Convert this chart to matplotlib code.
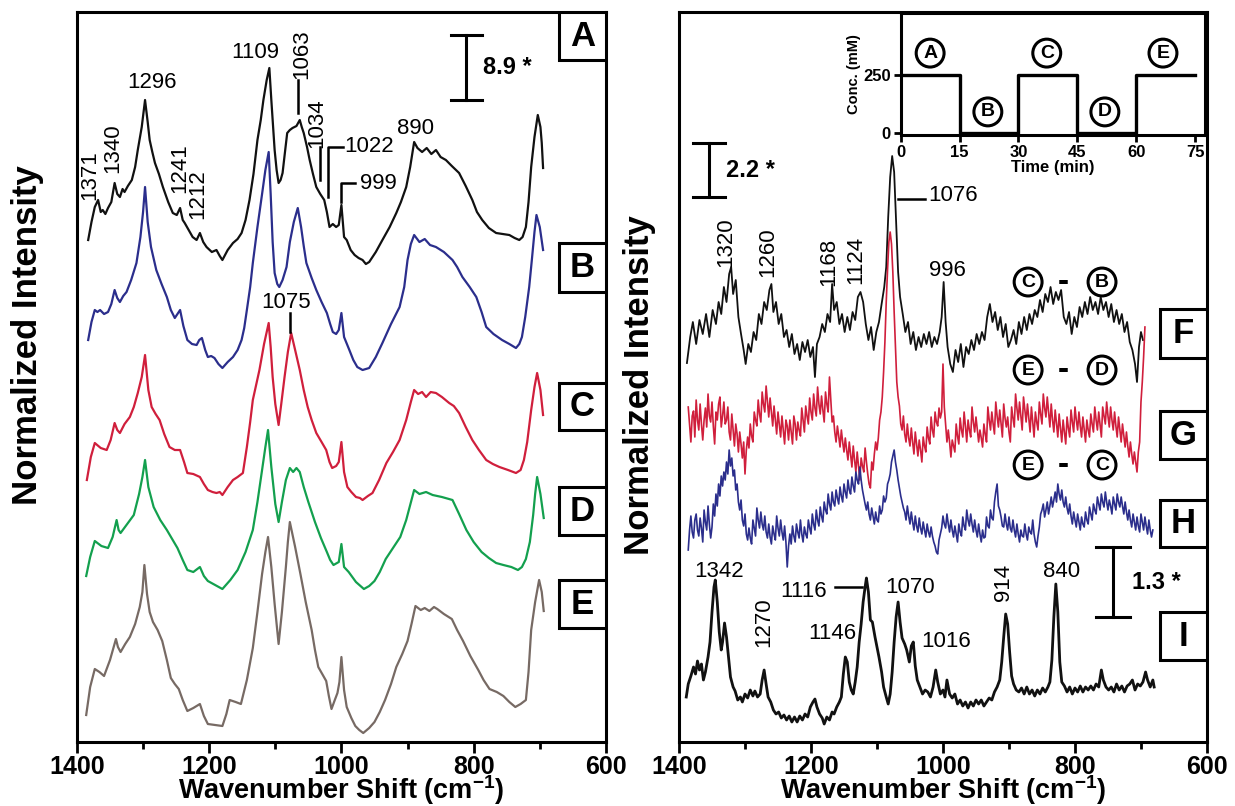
import numpy as np
import matplotlib
matplotlib.use('Agg')
import matplotlib.pyplot as plt
from matplotlib.patches import Rectangle

plt.rcParams['font.family'] = ['Liberation Sans', 'DejaVu Sans']
plt.rcParams['mathtext.fontset'] = 'custom'
plt.rcParams['mathtext.bf'] = 'Liberation Sans:bold'
plt.rcParams['mathtext.rm'] = 'Liberation Sans'

# ---- data: (wavenumber cm-1, intensity in stacked arbitrary units) ----
# left panel, spectra A-E
spec_A = [(1383, 502), (1378, 520), (1373, 535), (1368, 542), (1364, 530), (1361, 532),
          (1357, 528), (1353, 534), (1348, 540), (1343, 559), (1339, 548), (1335, 545),
          (1331, 553), (1328, 550), (1323, 556), (1317, 562), (1312, 575), (1308, 592),
          (1302, 615), (1297, 642), (1293, 620), (1290, 602), (1286, 590), (1282, 579),
          (1276, 568), (1270, 555), (1262, 540), (1255, 529), (1249, 527), (1244, 534),
          (1240, 522), (1237, 519), (1231, 512), (1225, 505), (1219, 502), (1214, 509),
          (1209, 500), (1204, 495), (1196, 490), (1189, 492), (1184, 486), (1180, 482),
          (1172, 492), (1164, 499), (1157, 503), (1151, 509), (1145, 522), (1139, 542),
          (1133, 568), (1127, 602), (1122, 622), (1118, 642), (1113, 662), (1109, 674),
          (1106, 642), (1103, 612), (1101, 592), (1098, 572), (1095, 559), (1092, 562),
          (1089, 569), (1085, 592), (1082, 609), (1078, 612), (1074, 614), (1068, 616),
          (1063, 622), (1060, 615), (1057, 609), (1052, 595), (1048, 582), (1043, 568),
          (1038, 555), (1032, 548), (1026, 542), (1022, 530), (1018, 515), (1013, 518),
          (1008, 515), (1004, 517), (1000, 537), (996, 505), (992, 502), (986, 492),
          (980, 487), (974, 484), (968, 482), (963, 478), (958, 480), (948, 490),
          (938, 502), (927, 515), (917, 529), (910, 540), (902, 555), (896, 575),
          (890, 600), (885, 594), (878, 590), (871, 594), (864, 588), (857, 592),
          (850, 585), (842, 582), (833, 576), (822, 569), (812, 556), (802, 542),
          (795, 530), (787, 522), (777, 514), (766, 509), (756, 508), (746, 507),
          (738, 504), (731, 502), (726, 505), (721, 515), (717, 540), (713, 575),
          (708, 605), (703, 627), (699, 615), (697, 599), (695, 574)]
spec_B = [(1383, 402), (1378, 420), (1373, 432), (1369, 430), (1365, 432), (1359, 428),
          (1353, 430), (1348, 438), (1343, 452), (1339, 444), (1335, 440), (1330, 446),
          (1325, 450), (1318, 462), (1310, 479), (1304, 505), (1300, 530), (1297, 555),
          (1293, 520), (1288, 495), (1280, 472), (1272, 458), (1264, 445), (1258, 432),
          (1252, 424), (1248, 428), (1244, 432), (1239, 416), (1233, 402), (1226, 398),
          (1219, 397), (1215, 402), (1211, 404), (1206, 392), (1202, 385), (1197, 386),
          (1192, 384), (1186, 378), (1180, 374), (1172, 380), (1164, 385), (1157, 392),
          (1151, 402), (1147, 414), (1143, 432), (1138, 455), (1134, 479), (1127, 515),
          (1120, 548), (1115, 572), (1110, 590), (1107, 548), (1104, 500), (1101, 469),
          (1097, 458), (1094, 455), (1089, 462), (1083, 475), (1078, 500), (1072, 520),
          (1066, 534), (1061, 515), (1057, 496), (1053, 479), (1045, 464), (1038, 452),
          (1030, 440), (1022, 429), (1017, 418), (1013, 410), (1008, 408), (1004, 412),
          (1000, 429), (996, 405), (988, 392), (982, 382), (976, 375), (968, 372),
          (958, 374), (948, 385), (938, 399), (925, 418), (912, 435), (905, 455),
          (900, 482), (895, 498), (890, 507), (882, 500), (874, 503), (866, 497),
          (857, 495), (845, 490), (832, 482), (825, 475), (817, 465), (806, 455),
          (796, 445), (788, 430), (781, 415), (770, 408), (757, 402), (746, 398),
          (736, 394), (731, 398), (727, 405), (722, 425), (716, 455), (712, 482),
          (708, 510), (705, 527), (700, 515), (695, 492)]
spec_C = [(1385, 262), (1379, 285), (1373, 299), (1364, 294), (1355, 292), (1349, 302),
          (1343, 319), (1339, 312), (1335, 309), (1328, 318), (1320, 325), (1314, 335),
          (1308, 349), (1302, 365), (1297, 387), (1292, 352), (1287, 335), (1281, 328),
          (1275, 322), (1268, 308), (1260, 295), (1252, 292), (1244, 292), (1238, 280),
          (1233, 269), (1224, 268), (1214, 265), (1208, 258), (1202, 252), (1195, 250),
          (1189, 249), (1184, 250), (1180, 247), (1172, 255), (1164, 262), (1157, 265),
          (1149, 269), (1143, 295), (1138, 320), (1134, 342), (1128, 360), (1124, 372),
          (1117, 398), (1110, 419), (1107, 395), (1104, 365), (1100, 338), (1095, 317),
          (1091, 338), (1086, 365), (1081, 390), (1076, 409), (1070, 392), (1063, 372),
          (1057, 352), (1051, 335), (1045, 322), (1038, 309), (1030, 300), (1023, 292),
          (1018, 280), (1014, 274), (1008, 276), (1004, 280), (1000, 300), (996, 270),
          (991, 255), (985, 250), (978, 245), (972, 244), (968, 242), (960, 246),
          (953, 249), (943, 262), (932, 279), (922, 290), (912, 302), (902, 322),
          (895, 340), (890, 352), (884, 348), (878, 350), (872, 345), (865, 350),
          (857, 349), (848, 345), (837, 339), (830, 336), (822, 329), (812, 315),
          (802, 302), (792, 292), (781, 282), (771, 278), (761, 275), (748, 272),
          (736, 269), (729, 272), (724, 282), (719, 300), (713, 332), (708, 355),
          (704, 369), (699, 352), (695, 327)]
spec_D = [(1386, 166), (1380, 185), (1373, 201), (1363, 196), (1353, 194), (1346, 205),
          (1340, 222), (1337, 212), (1334, 209), (1324, 218), (1314, 227), (1306, 248),
          (1301, 265), (1297, 282), (1292, 255), (1284, 235), (1274, 222), (1264, 212),
          (1256, 203), (1248, 194), (1240, 182), (1233, 172), (1224, 170), (1214, 175),
          (1208, 166), (1202, 161), (1191, 157), (1180, 153), (1168, 162), (1157, 172),
          (1145, 190), (1134, 212), (1127, 240), (1120, 272), (1115, 295), (1111, 312),
          (1106, 275), (1100, 238), (1095, 220), (1090, 240), (1084, 262), (1078, 274),
          (1073, 270), (1068, 274), (1063, 270), (1057, 255), (1050, 240), (1045, 230),
          (1040, 220), (1031, 204), (1022, 190), (1017, 182), (1012, 177), (1004, 180),
          (1000, 198), (996, 175), (989, 170), (978, 160), (966, 153), (958, 156),
          (950, 161), (942, 170), (933, 183), (922, 194), (911, 205), (902, 222),
          (894, 242), (890, 252), (882, 248), (872, 250), (862, 247), (848, 245),
          (832, 242), (822, 228), (811, 212), (800, 200), (788, 190), (777, 184),
          (766, 179), (755, 177), (743, 175), (733, 172), (727, 175), (721, 183),
          (715, 200), (710, 227), (707, 248), (704, 265), (699, 248), (694, 224)]
spec_E = [(1386, 27), (1380, 55), (1373, 73), (1366, 70), (1359, 66), (1350, 82),
          (1341, 103), (1338, 95), (1334, 90), (1327, 98), (1320, 105), (1312, 118),
          (1305, 135), (1301, 150), (1298, 177), (1294, 148), (1290, 130), (1285, 120),
          (1278, 112), (1271, 101), (1264, 82), (1258, 64), (1252, 58), (1246, 53),
          (1240, 42), (1233, 31), (1224, 34), (1214, 38), (1208, 26), (1202, 18),
          (1191, 17), (1180, 16), (1174, 28), (1169, 42), (1160, 40), (1152, 38),
          (1143, 62), (1134, 94), (1127, 130), (1120, 168), (1115, 190), (1111, 205),
          (1106, 175), (1101, 138), (1095, 98), (1090, 130), (1084, 175), (1081, 200),
          (1078, 220), (1070, 195), (1062, 168), (1054, 140), (1045, 112), (1040, 92),
          (1035, 75), (1029, 68), (1023, 61), (1019, 46), (1015, 33), (1010, 42),
          (1006, 49), (1003, 60), (1000, 85), (996, 52), (992, 35), (985, 24), (979, 16),
          (973, 12), (967, 9), (958, 14), (950, 20), (942, 30), (934, 42), (925, 58),
          (917, 75), (908, 88), (900, 101), (894, 118), (888, 136), (880, 132),
          (874, 134), (867, 131), (860, 135), (855, 133), (845, 128), (833, 123),
          (825, 112), (816, 101), (805, 86), (793, 72), (785, 62), (776, 53), (765, 50),
          (755, 46), (746, 40), (737, 35), (729, 38), (721, 42), (717, 70), (713, 112),
          (707, 140), (701, 162), (697, 150), (694, 131)]

# right panel, difference spectra F-H and spectrum I
spec_F = [(1388, 379), (1383, 405), (1379, 420), (1374, 398), (1369, 422), (1364, 408),
          (1359, 428), (1354, 405), (1349, 432), (1344, 418), (1340, 440), (1336, 428),
          (1332, 455), (1328, 440), (1324, 468), (1321, 475), (1318, 448), (1314, 462),
          (1310, 425), (1306, 408), (1302, 392), (1299, 378), (1295, 398), (1291, 390),
          (1287, 410), (1283, 402), (1279, 428), (1275, 418), (1271, 440), (1267, 432),
          (1263, 452), (1260, 458), (1257, 430), (1253, 440), (1249, 418), (1245, 428),
          (1241, 405), (1237, 412), (1233, 395), (1229, 408), (1225, 388), (1221, 398),
          (1217, 382), (1213, 400), (1209, 390), (1205, 402), (1201, 385), (1197, 395),
          (1194, 365), (1191, 398), (1187, 405), (1183, 418), (1179, 410), (1175, 428),
          (1171, 420), (1168, 458), (1165, 432), (1161, 440), (1157, 418), (1153, 428),
          (1149, 410), (1145, 425), (1141, 412), (1137, 430), (1133, 422), (1129, 445),
          (1125, 450), (1121, 440), (1117, 418), (1113, 402), (1109, 415), (1105, 392),
          (1101, 410), (1097, 420), (1093, 438), (1089, 455), (1086, 475), (1083, 525),
          (1080, 565), (1077, 586), (1074, 570), (1071, 520), (1068, 470), (1065, 445),
          (1061, 428), (1057, 410), (1053, 420), (1049, 398), (1045, 410), (1041, 392),
          (1037, 405), (1033, 395), (1029, 408), (1025, 398), (1021, 410), (1017, 395),
          (1013, 405), (1009, 398), (1005, 410), (1002, 425), (999, 460), (996, 420),
          (993, 395), (989, 378), (985, 370), (981, 392), (977, 380), (973, 398),
          (969, 375), (965, 395), (961, 388), (957, 402), (953, 392), (949, 408),
          (945, 398), (941, 410), (937, 402), (933, 425), (929, 438), (925, 420),
          (921, 430), (917, 412), (913, 425), (909, 405), (905, 418), (901, 395),
          (897, 402), (893, 412), (889, 398), (885, 420), (881, 408), (877, 425),
          (873, 412), (869, 428), (865, 418), (861, 432), (857, 425), (853, 442),
          (849, 430), (845, 448), (841, 440), (837, 455), (833, 438), (829, 450),
          (825, 442), (821, 452), (817, 425), (813, 418), (809, 430), (805, 408),
          (801, 425), (797, 415), (793, 435), (789, 425), (785, 440), (781, 428),
          (777, 445), (773, 432), (769, 440), (765, 428), (761, 445), (757, 432),
          (753, 440), (749, 425), (745, 438), (741, 420), (737, 432), (733, 418),
          (729, 428), (725, 410), (721, 420), (717, 400), (713, 392), (709, 378),
          (706, 360), (703, 395), (700, 410), (697, 402)]
spec_G = [(1386, 335), (1384, 318), (1382, 300), (1380, 326), (1378, 331), (1376, 305),
          (1374, 342), (1372, 322), (1370, 312), (1368, 338), (1366, 318), (1364, 302),
          (1362, 322), (1360, 334), (1358, 315), (1356, 348), (1354, 326), (1352, 320),
          (1350, 340), (1348, 316), (1346, 298), (1344, 330), (1342, 322), (1340, 338),
          (1338, 345), (1336, 315), (1334, 326), (1332, 340), (1330, 318), (1328, 322),
          (1326, 335), (1324, 310), (1322, 302), (1320, 328), (1318, 312), (1316, 296),
          (1314, 318), (1312, 308), (1310, 290), (1308, 310), (1306, 298), (1304, 284),
          (1302, 300), (1300, 268), (1298, 292), (1296, 305), (1294, 294), (1292, 318),
          (1290, 306), (1288, 300), (1286, 330), (1284, 322), (1282, 316), (1280, 342),
          (1278, 328), (1276, 320), (1274, 350), (1272, 338), (1270, 330), (1268, 356),
          (1266, 340), (1264, 325), (1262, 344), (1260, 330), (1258, 316), (1256, 336),
          (1254, 322), (1252, 308), (1250, 330), (1248, 318), (1246, 305), (1244, 326),
          (1242, 312), (1240, 298), (1238, 322), (1236, 316), (1234, 302), (1232, 322),
          (1230, 310), (1228, 298), (1226, 326), (1224, 318), (1222, 302), (1220, 320),
          (1218, 312), (1216, 306), (1214, 334), (1212, 322), (1210, 310), (1208, 336),
          (1206, 326), (1204, 318), (1202, 344), (1200, 330), (1198, 322), (1196, 348),
          (1194, 334), (1192, 326), (1190, 355), (1188, 338), (1186, 328), (1184, 346),
          (1182, 332), (1180, 320), (1178, 350), (1176, 338), (1174, 330), (1172, 365),
          (1170, 342), (1168, 320), (1166, 326), (1164, 310), (1162, 300), (1160, 316),
          (1158, 306), (1156, 295), (1154, 312), (1152, 300), (1150, 290), (1148, 304),
          (1146, 292), (1144, 282), (1142, 300), (1140, 288), (1138, 275), (1136, 296),
          (1134, 282), (1132, 270), (1130, 290), (1128, 276), (1126, 262), (1124, 284),
          (1122, 276), (1120, 270), (1118, 294), (1116, 280), (1114, 268), (1112, 258),
          (1110, 254), (1108, 280), (1106, 272), (1104, 288), (1102, 300), (1100, 292),
          (1098, 304), (1096, 322), (1094, 330), (1092, 345), (1090, 370), (1088, 400),
          (1086, 440), (1084, 472), (1082, 500), (1080, 510), (1078, 498), (1076, 470),
          (1074, 430), (1072, 395), (1070, 360), (1068, 345), (1066, 336), (1064, 318),
          (1062, 312), (1060, 326), (1058, 308), (1056, 300), (1054, 318), (1052, 304),
          (1050, 296), (1048, 314), (1046, 300), (1044, 288), (1042, 310), (1040, 298),
          (1038, 286), (1036, 302), (1034, 292), (1032, 280), (1030, 305), (1028, 296),
          (1026, 290), (1024, 315), (1022, 304), (1020, 298), (1018, 325), (1016, 312),
          (1014, 305), (1012, 330), (1010, 320), (1008, 316), (1006, 334), (1004, 324),
          (1002, 330), (1000, 378), (998, 335), (996, 318), (994, 300), (992, 312),
          (990, 300), (988, 285), (986, 302), (984, 296), (982, 290), (980, 318),
          (978, 306), (976, 298), (974, 324), (972, 312), (970, 305), (968, 330),
          (966, 316), (964, 300), (962, 322), (960, 312), (958, 305), (956, 335),
          (954, 320), (952, 310), (950, 325), (948, 312), (946, 300), (944, 312),
          (942, 304), (940, 295), (938, 318), (936, 308), (934, 300), (932, 335),
          (930, 322), (928, 312), (926, 330), (924, 318), (922, 308), (920, 340),
          (918, 326), (916, 315), (914, 332), (912, 318), (910, 305), (908, 338),
          (906, 324), (904, 315), (902, 325), (900, 310), (898, 300), (896, 335),
          (894, 324), (892, 315), (890, 348), (888, 334), (886, 322), (884, 340),
          (882, 326), (880, 312), (878, 345), (876, 332), (874, 320), (872, 338),
          (870, 324), (868, 310), (866, 335), (864, 320), (862, 305), (860, 330),
          (858, 320), (856, 312), (854, 340), (852, 328), (850, 318), (848, 348),
          (846, 334), (844, 325), (842, 345), (840, 330), (838, 315), (836, 338),
          (834, 322), (832, 310), (830, 332), (828, 318), (826, 305), (824, 328),
          (822, 314), (820, 300), (818, 322), (816, 310), (814, 298), (812, 325),
          (810, 314), (808, 305), (806, 332), (804, 320), (802, 310), (800, 335),
          (798, 322), (796, 312), (794, 330), (792, 316), (790, 305), (788, 325),
          (786, 312), (784, 300), (782, 322), (780, 312), (778, 305), (776, 328),
          (774, 318), (772, 310), (770, 335), (768, 322), (766, 312), (764, 330),
          (762, 318), (760, 305), (758, 335), (756, 326), (754, 318), (752, 340),
          (750, 326), (748, 315), (746, 335), (744, 322), (742, 312), (740, 330),
          (738, 316), (736, 305), (734, 325), (732, 312), (730, 300), (728, 318),
          (726, 306), (724, 295), (722, 310), (720, 296), (718, 285), (716, 300),
          (714, 288), (712, 278), (710, 290), (708, 280), (706, 270), (704, 290),
          (702, 300), (700, 340), (698, 360), (696, 385), (694, 415)]
spec_H = [(1386, 192), (1384, 212), (1382, 226), (1380, 210), (1378, 204), (1376, 222),
          (1374, 228), (1372, 212), (1370, 206), (1368, 224), (1366, 214), (1364, 200),
          (1362, 232), (1360, 220), (1358, 212), (1356, 236), (1354, 218), (1352, 204),
          (1350, 215), (1348, 238), (1346, 226), (1344, 248), (1342, 236), (1340, 258),
          (1338, 246), (1336, 266), (1334, 256), (1332, 270), (1330, 262), (1328, 280),
          (1326, 268), (1324, 292), (1322, 276), (1320, 284), (1318, 266), (1316, 272),
          (1314, 252), (1312, 258), (1310, 240), (1308, 232), (1306, 242), (1304, 222),
          (1302, 216), (1300, 228), (1298, 208), (1296, 202), (1294, 214), (1292, 204),
          (1290, 198), (1288, 222), (1286, 214), (1284, 206), (1282, 234), (1280, 222),
          (1278, 214), (1276, 230), (1274, 218), (1272, 212), (1270, 226), (1268, 210),
          (1266, 204), (1264, 218), (1262, 205), (1260, 198), (1258, 216), (1256, 208),
          (1254, 202), (1252, 226), (1250, 214), (1248, 206), (1246, 222), (1244, 210),
          (1242, 202), (1240, 216), (1238, 200), (1236, 175), (1234, 196), (1232, 208),
          (1230, 198), (1228, 216), (1226, 206), (1224, 200), (1222, 218), (1220, 210),
          (1218, 204), (1216, 222), (1214, 208), (1212, 200), (1210, 215), (1208, 208),
          (1206, 204), (1204, 222), (1202, 214), (1200, 208), (1198, 228), (1196, 218),
          (1194, 212), (1192, 232), (1190, 222), (1188, 216), (1186, 235), (1184, 226),
          (1182, 220), (1180, 240), (1178, 232), (1176, 228), (1174, 248), (1172, 238),
          (1170, 232), (1168, 250), (1166, 240), (1164, 236), (1162, 252), (1160, 244),
          (1158, 238), (1156, 255), (1154, 246), (1152, 240), (1150, 258), (1148, 250),
          (1146, 244), (1144, 262), (1142, 252), (1140, 248), (1138, 265), (1136, 256),
          (1134, 250), (1132, 270), (1130, 262), (1128, 258), (1126, 275), (1124, 262),
          (1122, 252), (1120, 245), (1118, 238), (1116, 232), (1114, 240), (1112, 228),
          (1110, 222), (1108, 234), (1106, 226), (1104, 218), (1102, 230), (1100, 222),
          (1098, 220), (1096, 236), (1094, 228), (1092, 232), (1090, 246), (1088, 240),
          (1086, 244), (1084, 258), (1082, 262), (1080, 268), (1078, 280), (1076, 286),
          (1074, 292), (1072, 280), (1070, 272), (1068, 262), (1066, 254), (1064, 246),
          (1062, 240), (1060, 234), (1058, 230), (1056, 222), (1054, 236), (1052, 226),
          (1050, 218), (1048, 230), (1046, 220), (1044, 212), (1042, 226), (1040, 216),
          (1038, 210), (1036, 224), (1034, 214), (1032, 208), (1030, 220), (1028, 212),
          (1026, 205), (1024, 218), (1022, 210), (1020, 205), (1018, 215), (1016, 206),
          (1014, 200), (1012, 196), (1010, 190), (1008, 188), (1006, 202), (1004, 208),
          (1002, 214), (1000, 226), (998, 218), (996, 214), (994, 228), (992, 218),
          (990, 210), (988, 222), (986, 212), (984, 205), (982, 216), (980, 208),
          (978, 200), (976, 218), (974, 210), (972, 206), (970, 225), (968, 216),
          (966, 212), (964, 232), (962, 222), (960, 216), (958, 228), (956, 218),
          (954, 210), (952, 222), (950, 212), (948, 205), (946, 218), (944, 208),
          (942, 200), (940, 212), (938, 204), (936, 205), (934, 225), (932, 216),
          (930, 214), (928, 232), (926, 224), (924, 222), (922, 240), (920, 250),
          (918, 258), (916, 236), (914, 232), (912, 225), (910, 216), (908, 215),
          (906, 228), (904, 218), (902, 212), (900, 225), (898, 214), (896, 210),
          (894, 222), (892, 212), (890, 205), (888, 218), (886, 208), (884, 200),
          (882, 212), (880, 206), (878, 205), (876, 218), (874, 208), (872, 202),
          (870, 215), (868, 210), (866, 208), (864, 222), (862, 208), (860, 200),
          (858, 195), (856, 206), (854, 215), (852, 228), (850, 232), (848, 238),
          (846, 225), (844, 232), (842, 240), (840, 228), (838, 236), (836, 245),
          (834, 235), (832, 242), (830, 250), (828, 240), (826, 258), (824, 248),
          (822, 242), (820, 252), (818, 240), (816, 235), (814, 245), (812, 234),
          (810, 228), (808, 238), (806, 226), (804, 218), (802, 230), (800, 222),
          (798, 215), (796, 228), (794, 220), (792, 212), (790, 225), (788, 218),
          (786, 215), (784, 230), (782, 222), (780, 218), (778, 235), (776, 228),
          (774, 222), (772, 238), (770, 232), (768, 228), (766, 245), (764, 238),
          (762, 232), (760, 248), (758, 240), (756, 235), (754, 250), (752, 240),
          (750, 232), (748, 242), (746, 236), (744, 228), (742, 245), (740, 238),
          (738, 232), (736, 248), (734, 240), (732, 235), (730, 245), (728, 236),
          (726, 228), (724, 240), (722, 230), (720, 222), (718, 232), (716, 222),
          (714, 215), (712, 228), (710, 220), (708, 212), (706, 225), (704, 216),
          (702, 210), (700, 228), (698, 220), (696, 212), (694, 225), (692, 216),
          (690, 208), (688, 222), (686, 212), (684, 205), (682, 212)]
spec_I = [(1389, 45), (1386, 58), (1382, 66), (1378, 75), (1375, 68), (1372, 81),
          (1369, 72), (1366, 78), (1363, 62), (1360, 70), (1356, 85), (1353, 100),
          (1350, 130), (1347, 155), (1345, 162), (1342, 140), (1339, 110), (1336, 92),
          (1334, 100), (1331, 119), (1328, 105), (1325, 85), (1322, 65), (1318, 55),
          (1315, 51), (1311, 42), (1307, 45), (1304, 40), (1300, 48), (1296, 44),
          (1292, 52), (1288, 46), (1285, 51), (1281, 45), (1277, 48), (1274, 62),
          (1271, 72), (1268, 58), (1265, 45), (1261, 40), (1257, 32), (1253, 28),
          (1249, 30), (1245, 24), (1241, 27), (1237, 22), (1233, 26), (1229, 20),
          (1225, 25), (1221, 20), (1217, 26), (1213, 22), (1209, 28), (1205, 25),
          (1201, 35), (1197, 40), (1194, 43), (1191, 35), (1187, 28), (1183, 24),
          (1180, 18), (1176, 25), (1172, 22), (1168, 30), (1165, 28), (1161, 35),
          (1157, 40), (1154, 45), (1151, 68), (1148, 85), (1145, 80), (1142, 60),
          (1139, 52), (1136, 48), (1133, 60), (1130, 75), (1127, 100), (1124, 118),
          (1121, 140), (1118, 155), (1116, 164), (1113, 150), (1110, 122), (1107, 120),
          (1103, 105), (1100, 95), (1097, 85), (1093, 70), (1090, 55), (1086, 45),
          (1083, 38), (1080, 48), (1077, 70), (1074, 100), (1071, 125), (1068, 140),
          (1065, 120), (1062, 104), (1058, 98), (1055, 92), (1051, 80), (1048, 96),
          (1045, 100), (1042, 76), (1039, 62), (1035, 55), (1031, 48), (1027, 52),
          (1023, 50), (1019, 45), (1015, 55), (1011, 72), (1008, 60), (1004, 48),
          (1000, 52), (997, 45), (994, 62), (990, 48), (986, 44), (982, 48), (978, 38),
          (974, 42), (970, 36), (966, 40), (962, 34), (958, 40), (954, 36), (950, 42),
          (946, 38), (942, 42), (938, 36), (934, 40), (930, 44), (926, 42), (922, 50),
          (918, 55), (914, 62), (911, 80), (908, 105), (905, 128), (902, 118), (899, 90),
          (896, 66), (893, 58), (889, 52), (885, 50), (881, 54), (877, 48), (873, 55),
          (869, 48), (865, 52), (861, 46), (857, 52), (853, 48), (849, 54), (845, 50),
          (841, 55), (838, 60), (835, 82), (832, 125), (829, 158), (826, 130), (823, 80),
          (820, 60), (816, 56), (812, 50), (808, 55), (804, 48), (800, 54), (796, 50),
          (792, 56), (788, 50), (784, 55), (780, 52), (776, 56), (772, 52), (768, 58),
          (764, 55), (760, 72), (757, 62), (753, 55), (749, 52), (745, 55), (741, 50),
          (737, 58), (733, 52), (729, 56), (725, 50), (721, 56), (717, 58), (713, 62),
          (709, 52), (705, 58), (701, 56), (697, 60), (693, 70), (690, 62), (686, 55),
          (682, 62), (680, 55)]

# inset: concentration program
time_min = [0, 15, 30, 45, 60, 75]
conc_mM = [250, 0, 250, 0, 250, 250]
step_names = ['A', 'B', 'C', 'D', 'E']

xticks_major = [1400, 1200, 1000, 800, 600]
xticks_minor = [1300, 1100, 900, 700]

c_black = '#111111'
c_blue = '#2b2e8c'
c_red = '#d01f3c'
c_green = '#13a04e'
c_brown = '#776a64'

fig = plt.figure(figsize=(12.35, 8.06), dpi=100)
ax1 = fig.add_axes([0.0623, 0.0794, 0.4283, 0.9057])
ax2 = fig.add_axes([0.5498, 0.0794, 0.4275, 0.9057])


def style_axes(ax):
    ax.set_xlim(1400, 600)
    ax.set_ylim(0, 730)
    ax.set_yticks([])
    ax.set_xticks(xticks_major)
    ax.set_xticks(xticks_minor, minor=True)
    ax.tick_params(axis='x', which='major', direction='out', length=8, width=2,
                   labelsize=18, pad=1.5)
    ax.tick_params(axis='x', which='minor', direction='out', length=5, width=2)
    for lab in ax.get_xticklabels():
        lab.set_fontweight('bold')
    for sp in ax.spines.values():
        sp.set_linewidth(2.2)
    ax.set_xlabel('Wavenumber Shift (cm$^{\\mathbf{-1}}$)', fontsize=19.5,
                  fontweight='bold')
    ax.xaxis.label.set_va('baseline')
    ax.xaxis.set_label_coords(0.5, -0.078)


def draw(ax, spec, color, lw):
    arr = np.array(spec, dtype=float)
    ax.plot(arr[:, 0], arr[:, 1], color=color, lw=lw, solid_joinstyle='round')


def box_label(ax, letter, i_bottom, i_top):
    ax.add_patch(Rectangle((600, i_bottom), 71, i_top - i_bottom, facecolor='white',
                           edgecolor='black', lw=2.2, zorder=5))
    ax.text(635.5, (i_bottom + i_top) / 2, letter, ha='center', va='center',
            fontsize=25, fontweight='bold', zorder=6)


def scale_bar(ax, x, y0, y1, half, txt):
    ax.plot([x, x], [y0, y1], color='black', lw=2.2)
    ax.plot([x + half, x - half], [y0, y0], color='black', lw=2.2)
    ax.plot([x + half, x - half], [y1, y1], color='black', lw=2.2)
    ax.text(x - half - 2, (y0 + y1) / 2, txt, ha='left', va='center',
            fontsize=17, fontweight='bold')


def circ(ax, x, y, letter, size=14):
    ax.text(x, y, letter, ha='center', va='center', fontsize=size, fontweight='bold',
            bbox=dict(boxstyle='circle,pad=0.28', fc='white', ec='black', lw=2.2))


style_axes(ax1)
style_axes(ax2)

# ---- left panel ----
draw(ax1, spec_A, c_black, 1.6)
draw(ax1, spec_B, c_blue, 1.6)
draw(ax1, spec_C, c_red, 1.6)
draw(ax1, spec_D, c_green, 1.6)
draw(ax1, spec_E, c_brown, 1.6)

for letter, (b, t) in zip('ABCDE', [(682, 730), (450, 499), (312, 359), (207, 255), (114, 162)]):
    box_label(ax1, letter, b, t)

fs = 16
ax1.text(1380, 567, '1371', rotation=90, ha='center', va='center', fontsize=fs)
ax1.text(1346, 594, '1340', rotation=90, ha='center', va='center', fontsize=fs)
ax1.text(1287, 660, '1296', ha='center', va='center', fontsize=fs)
ax1.text(1245, 574, '1241', rotation=90, ha='center', va='center', fontsize=fs)
ax1.text(1217, 548, '1212', rotation=90, ha='center', va='center', fontsize=fs)
ax1.text(1131, 690, '1109', ha='center', va='center', fontsize=fs)
ax1.text(1060, 688, '1063', rotation=90, ha='center', va='center', fontsize=fs)
ax1.plot([1066, 1066], [662, 629], color='black', lw=1.8)
ax1.text(1038, 619, '1034', rotation=90, ha='center', va='center', fontsize=fs)
ax1.plot([1033, 1033], [595, 562], color='black', lw=1.8)
ax1.plot([1020, 1020, 998], [545, 595, 595], color='black', lw=1.8)
ax1.text(996, 596, '1022', ha='left', va='center', fontsize=fs)
ax1.plot([1000, 1000, 980], [540, 559, 559], color='black', lw=1.8)
ax1.text(972, 559, '999', ha='left', va='center', fontsize=fs)
ax1.text(888, 614, '890', ha='center', va='center', fontsize=fs)
ax1.text(1083, 440, '1075', ha='center', va='center', fontsize=fs)
ax1.plot([1078, 1078], [429, 410], color='black', lw=1.8)
scale_bar(ax1, 811, 642, 707, 23, '8.9 *')

# ---- right panel ----
draw(ax2, spec_F, c_black, 1.3)
draw(ax2, spec_G, c_red, 1.2)
draw(ax2, spec_H, c_blue, 1.2)
draw(ax2, spec_I, c_black, 2.0)

for letter, (b, t) in zip('FGHI', [(384, 433), (283, 331), (195, 242), (82, 130)]):
    box_label(ax2, letter, b, t)

ax2.text(1329, 500, '1320', rotation=90, ha='center', va='center', fontsize=fs)
ax2.text(1265, 490, '1260', rotation=90, ha='center', va='center', fontsize=fs)
ax2.text(1173, 480, '1168', rotation=90, ha='center', va='center', fontsize=fs)
ax2.text(1132, 482, '1124', rotation=90, ha='center', va='center', fontsize=fs)
ax2.plot([1068, 1027], [543, 543], color='black', lw=1.8)
ax2.text(1022, 547, '1076', ha='left', va='center', fontsize=fs)
ax2.text(994, 472, '996', ha='center', va='center', fontsize=fs)
ax2.text(1339, 171, '1342', ha='center', va='center', fontsize=fs)
ax2.text(1271, 120, '1270', rotation=90, ha='center', va='center', fontsize=fs)
ax2.text(1211, 151, '1116', ha='center', va='center', fontsize=fs)
ax2.plot([1164, 1123], [155, 155], color='black', lw=1.8)
ax2.text(1050, 155, '1070', ha='center', va='center', fontsize=fs)
ax2.text(1167, 109, '1146', ha='center', va='center', fontsize=fs)
ax2.text(995, 101, '1016', ha='center', va='center', fontsize=fs)
ax2.text(909, 160, '914', rotation=90, ha='center', va='center', fontsize=fs)
ax2.text(820, 171, '840', ha='center', va='center', fontsize=fs)
scale_bar(ax2, 1354.5, 545, 599, 24, '2.2 *')
scale_bar(ax2, 742, 125, 195, 26, '1.3 *')

for y, (l1, l2) in zip([460, 372, 277], [('C', 'B'), ('E', 'D'), ('E', 'C')]):
    circ(ax2, 871, y, l1)
    ax2.text(818, y, '-', ha='center', va='center', fontsize=24, fontweight='bold')
    circ(ax2, 759, y, l2)

# ---- inset ----
axi = fig.add_axes([0.7293, 0.8325, 0.2464, 0.1517])
axi.step(time_min, conc_mM, where='post', color='black', lw=2.4)
axi.set_xlim(0, 77.5)
axi.set_ylim(-7, 517)
axi.set_xticks(time_min)
axi.set_yticks([0, 250])
axi.tick_params(direction='out', length=5, width=2, labelsize=12, pad=2)
for lab in axi.get_xticklabels() + axi.get_yticklabels():
    lab.set_fontweight('bold')
for sp in axi.spines.values():
    sp.set_linewidth(2.2)
axi.set_xlabel('Time (min)', fontsize=12, fontweight='bold', labelpad=0)
axi.set_ylabel('Conc. (mM)', fontsize=10.5, fontweight='bold', labelpad=2)
for x, y, n in zip([7.5, 22.2, 37.2, 52, 66.8], [344, 92, 344, 92, 344], step_names):
    circ(axi, x, y, n)

fig.text(0.022, 0.584, 'Normalized Intensity', rotation=90, ha='center', va='center',
         fontsize=25, fontweight='bold')
fig.text(0.518, 0.522, 'Normalized Intensity', rotation=90, ha='center', va='center',
         fontsize=25, fontweight='bold')

fig.savefig('out.png', dpi=100)
